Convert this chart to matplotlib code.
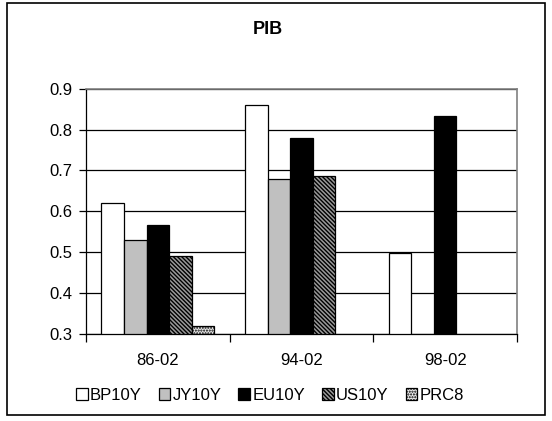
import matplotlib
matplotlib.use("Agg")
import matplotlib.pyplot as plt
from matplotlib.patches import Rectangle
import numpy as np

plt.rcParams['font.family'] = ['Liberation Sans', 'DejaVu Sans']
plt.rcParams['hatch.color'] = 'black'
plt.rcParams['hatch.linewidth'] = 1.0

categories = ["86-02", "94-02", "98-02"]
series = ["BP10Y", "JY10Y", "EU10Y", "US10Y", "PRC8"]
bp10y = [0.62, 0.86, 0.498]
jy10y = [0.53, 0.679, np.nan]
eu10y = [0.565, 0.78, 0.833]
us10y = [0.49, 0.685, np.nan]
prc8 = [0.32, np.nan, np.nan]
values = [bp10y, jy10y, eu10y, us10y, prc8]

faces = ['white', '#c0c0c0', 'black', '#9a9a9a', '#e8e8e8']
hatches = [None, None, None, '\\\\\\\\\\\\\\\\', '......']

fig = plt.figure(figsize=(5.52, 4.21), dpi=100)
fig.patches.append(Rectangle((7/552, 1 - 415/421), (545-7)/552, (415-3)/421,
                             transform=fig.transFigure, fill=False,
                             edgecolor='black', linewidth=1.2, zorder=0))

ax = fig.add_axes([86/552, 1 - 333.7/421, (517-86)/552, (333.7-88.7)/421])

ymin = 0.3
x = np.arange(len(categories))
w = 1 / 6.36
for i, (name, vals) in enumerate(zip(series, values)):
    v = np.array(vals, dtype=float)
    ax.bar(x + (i - 2) * w, v - ymin, width=w, bottom=ymin, color=faces[i],
           edgecolor='black', linewidth=0.9, hatch=hatches[i], label=name,
           zorder=3)

ax.set_xlim(-0.5, 2.5)
ax.set_ylim(0.3, 0.9)
ax.set_yticks(np.arange(0.3, 0.91, 0.1))
ax.set_yticklabels([f"{t:.1f}" for t in np.arange(0.3, 0.91, 0.1)])
ax.yaxis.grid(True, color='black', linewidth=0.9, zorder=0)
ax.set_axisbelow(True)

ax.set_xticks([-0.5, 0.5, 1.5, 2.5])
ax.set_xticklabels([])
ax.set_xticks(x, minor=True)
ax.set_xticklabels(categories, minor=True)
ax.tick_params(axis='x', which='minor', length=0, pad=14, labelsize=12)
ax.tick_params(axis='x', which='major', length=6, direction='out', width=0.9)
ax.tick_params(axis='y', length=5, direction='out', width=0.9, labelsize=12, pad=5)

for s in ['top', 'right']:
    ax.spines[s].set_color('#808080')
    ax.spines[s].set_linewidth(1.2)
for s in ['left', 'bottom']:
    ax.spines[s].set_color('black')
    ax.spines[s].set_linewidth(0.9)

fig.text(267.5/552, 1 - 30/421, "PIB", ha='center', va='center',
         fontsize=13, fontweight='bold')

leg = fig.legend(loc='center', bbox_to_anchor=(270/552, 1 - 395/421), ncol=5,
                 frameon=False, fontsize=12, handlelength=0.7, handleheight=0.7,
                 handletextpad=0.15, columnspacing=1.0, borderaxespad=0)

fig.savefig("out.png", dpi=100)
